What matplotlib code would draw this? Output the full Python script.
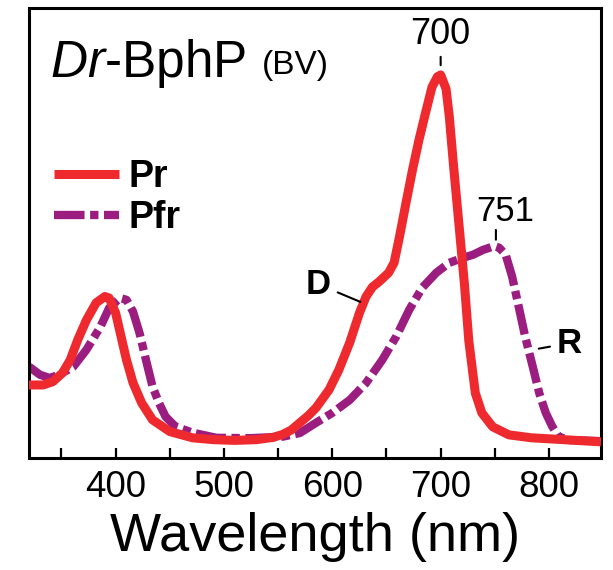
import matplotlib
matplotlib.use("Agg")
import matplotlib.pyplot as plt
from matplotlib.ticker import MultipleLocator, NullFormatter

plt.rcParams['font.family'] = ['Liberation Sans', 'DejaVu Sans']
plt.rcParams['mathtext.fontset'] = 'custom'
plt.rcParams['mathtext.rm'] = 'Liberation Sans'
plt.rcParams['mathtext.it'] = 'Liberation Sans:italic'
plt.rcParams['lines.scale_dashes'] = False

#Spectra (normalised absorbance)

pr_wl = [320, 333, 342, 351, 358, 365, 373, 382, 390, 394, 400, 405, 410, 416, 424,
         434, 450, 471, 490, 510, 530, 545, 554, 562, 570, 578, 585, 597, 606, 616,
         625, 631, 637, 643, 652, 657, 662, 668, 674, 680, 686, 692, 697, 700, 705,
         708, 712, 717, 722, 726, 732, 738, 748, 763, 784, 848]
pr_abs = [0.155, 0.155, 0.164, 0.188, 0.223, 0.278, 0.332, 0.379, 0.396, 0.392, 0.351,
          0.287, 0.223, 0.161, 0.106, 0.060, 0.028, 0.011, 0.006, 0.004, 0.006, 0.012,
          0.020, 0.032, 0.052, 0.072, 0.093, 0.142, 0.196, 0.270, 0.351, 0.395, 0.422,
          0.436, 0.461, 0.488, 0.559, 0.651, 0.741, 0.823, 0.896, 0.967, 0.995, 1.0,
          0.962, 0.886, 0.749, 0.589, 0.428, 0.275, 0.133, 0.079, 0.041, 0.019, 0.011,
          0.0]

pfr_wl = [320, 330, 339, 348, 361, 373, 386, 394, 404, 410, 416, 422, 428, 434, 440,
          446, 455, 471, 493, 524, 554, 570, 585, 600, 616, 631, 646, 659, 671, 683,
          696, 708, 720, 730, 739, 748, 751, 754, 760, 766, 772, 778, 785, 791, 797,
          803, 809, 818, 848]
pfr_abs = [0.205, 0.183, 0.174, 0.183, 0.205, 0.251, 0.314, 0.365, 0.392, 0.387,
           0.355, 0.297, 0.223, 0.151, 0.106, 0.069, 0.042, 0.025, 0.011, 0.010,
           0.014, 0.024, 0.052, 0.079, 0.114, 0.160, 0.223, 0.287, 0.360, 0.420,
           0.461, 0.488, 0.501, 0.510, 0.523, 0.532, 0.532, 0.529, 0.510, 0.450,
           0.369, 0.287, 0.205, 0.133, 0.079, 0.042, 0.014, 0.005, 0.002]

pr_peak = 700
pfr_peak = 751

red = '#EE2A2E'
purple = '#9B1D80'

fig = plt.figure(figsize=(6.13, 5.70), dpi=100)
ax = fig.add_axes([0.0473, 0.1965, 0.9331, 0.7886])

ax.plot(pfr_wl, pfr_abs, color=purple, lw=6, dashes=[22, 4, 6, 4],
        dash_capstyle='butt', dash_joinstyle='round', label='Pfr', zorder=2)
ax.plot(pr_wl, pr_abs, color=red, lw=6.5, solid_capstyle='butt',
        solid_joinstyle='round', label='Pr', zorder=3)

ax.set_xlim(320, 848)
ax.set_ylim(-0.044, 1.181)

ax.xaxis.set_major_locator(MultipleLocator(100))
ax.xaxis.set_minor_locator(MultipleLocator(50))
ax.xaxis.set_minor_formatter(NullFormatter())
ax.tick_params(axis='x', which='both', direction='in', length=7, width=1.6,
               labelsize=26.5, pad=9, top=False)
ax.set_yticks([])
for s in ax.spines.values():
    s.set_linewidth(2.2)

ax.set_xlabel('Wavelength (nm)', fontsize=39, labelpad=5)

#Legend

handles, labels = ax.get_legend_handles_labels()
ax.legend(handles[::-1], labels[::-1], loc='upper left', bbox_to_anchor=(0.043, 0.666),
          frameon=False, prop={'weight': 'bold', 'size': 27}, handlelength=1.75,
          handletextpad=0.25, labelspacing=0.15, borderpad=0, borderaxespad=0)

#Title and peak labels

t = ax.text(0.037, 0.848, r'$\mathit{Dr}$-BphP', transform=ax.transAxes,
            fontsize=37, va='baseline', ha='left')
ax.annotate('(BV)', xy=(1, 0), xycoords=t, xytext=(11, 6), textcoords='offset points',
            fontsize=24, va='bottom', ha='left')

pk1 = pr_abs[pr_wl.index(pr_peak)]
ax.annotate('', xy=(pr_peak, pk1), xytext=(0, 13), textcoords='offset points',
            arrowprops=dict(arrowstyle='-', lw=1.5, shrinkA=0, shrinkB=7))
ax.annotate(str(pr_peak), xy=(pr_peak, pk1), xytext=(0, 29), textcoords='offset points',
            fontsize=26, ha='center', va='center')

pk2 = pfr_abs[pfr_wl.index(pfr_peak)]
ax.annotate('', xy=(pfr_peak, pk2), xytext=(0, 12), textcoords='offset points',
            arrowprops=dict(arrowstyle='-', lw=1.5, shrinkA=0, shrinkB=5))
ax.annotate(str(pfr_peak), xy=(pfr_peak, pk2), xytext=(6.5, 25), textcoords='offset points',
            fontsize=25, ha='center', va='center')

ax.annotate('D', xy=(627, 0.38), xytext=(-31, 13), textcoords='offset points',
            fontsize=25, fontweight='bold', ha='center', va='center',
            arrowprops=dict(arrowstyle='-', lw=1.5, shrinkA=3, shrinkB=1))
ax.annotate('R', xy=(783, 0.25), xytext=(28, 5), textcoords='offset points',
            fontsize=25, fontweight='bold', ha='center', va='center',
            arrowprops=dict(arrowstyle='-', lw=1.5, shrinkA=3, shrinkB=6))

plt.savefig('out.png', dpi=100)
